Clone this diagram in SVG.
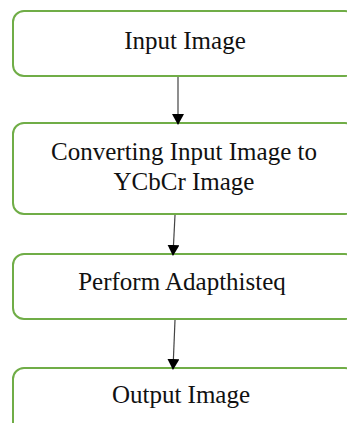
<svg xmlns="http://www.w3.org/2000/svg" width="347" height="423" viewBox="0 0 347 423">
<defs>
<style>
.box{fill:#ffffff;stroke:#70AD47;stroke-width:2}
.t{font-family:'Liberation Serif','DejaVu Serif',Times,serif;font-size:25px;fill:#111;text-anchor:middle}
.c{stroke:#444;stroke-width:1.2;fill:none}
</style>
<marker id="ah" markerWidth="11" markerHeight="12" refX="10" refY="6" orient="auto" markerUnits="userSpaceOnUse">
<path d="M0,0 L11,6 L0,12 Z" fill="#000"/>
</marker>
</defs>
<rect width="347" height="423" fill="#fff"/>
<g id="n1"><rect class="box" x="13" y="11" width="343" height="65" rx="11"/><text class="t" x="185" y="49">Input Image</text></g>
<g id="n2"><rect class="box" x="13" y="123" width="343" height="91" rx="11"/><text class="t" x="184" y="160">Converting Input Image to</text><text class="t" x="184" y="190">YCbCr Image</text></g>
<g id="n3"><rect class="box" x="13" y="254" width="343" height="65" rx="11"/><text class="t" x="182" y="290">Perform Adapthisteq</text></g>
<g id="n4"><rect class="box" x="13" y="368" width="343" height="70" rx="11"/><text class="t" x="181" y="403">Output Image</text></g>
<g id="connectors">
<line class="c" x1="178" y1="77" x2="178" y2="124" marker-end="url(#ah)"/>
<line class="c" x1="175" y1="215" x2="173" y2="255" marker-end="url(#ah)"/>
<line class="c" x1="175" y1="320" x2="173" y2="369" marker-end="url(#ah)"/>
</g>
</svg>
